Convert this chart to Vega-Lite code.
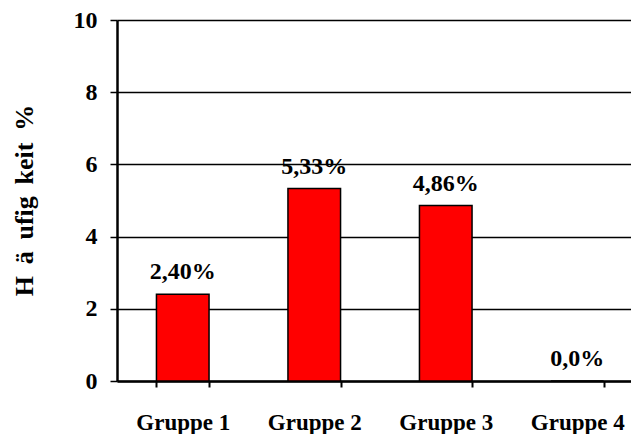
{
  "$schema": "https://vega.github.io/schema/vega-lite/v6.json",
  "autosize": {"type": "none"},
  "padding": {"left": 117, "top": 20, "right": 0, "bottom": 53},
  "width": 514,
  "height": 361,
  "background": "white",
  "config": {
    "view": {"stroke": null},
    "font": "Liberation Serif"
  },
  "data": {
    "values": [
      {"gruppe": "Gruppe 1", "wert": 2.40, "label": "2,40%"},
      {"gruppe": "Gruppe 2", "wert": 5.33, "label": "5,33%"},
      {"gruppe": "Gruppe 3", "wert": 4.86, "label": "4,86%"},
      {"gruppe": "Gruppe 4", "wert": 0.0, "label": "0,0%"}
    ]
  },
  "encoding": {
    "x": {
      "field": "gruppe",
      "type": "nominal",
      "sort": null,
      "scale": {"range": [0, 526], "paddingInner": 0.6, "paddingOuter": 0.3},
      "axis": {
        "title": null,
        "labelAngle": 0,
        "labelFont": "Liberation Serif",
        "labelFontWeight": "bold",
        "labelFontSize": 23,
        "labelColor": "black",
        "labelPadding": 24,
        "tickBand": "extent",
        "tickColor": "black",
        "tickWidth": 2,
        "tickSize": 6,
        "domainColor": "black",
        "domainWidth": 2.5,
        "grid": false
      }
    },
    "y": {
      "field": "wert",
      "type": "quantitative",
      "scale": {"domain": [0, 10], "nice": false},
      "axis": {
        "title": "H\u00a0\u2009ä\u00a0\u2009ufig\u00a0\u2009keit\u00a0\u2009%",
        "values": [0, 2, 4, 6, 8, 10],
        "titleFont": "Liberation Serif",
        "titleFontWeight": "bold",
        "titleFontSize": 26,
        "titleColor": "black",
        "titleAngle": -90,
        "titleX": -93,
        "titleY": 180,
        "titleAlign": "center",
        "titleBaseline": "middle",
        "labelFont": "Liberation Serif",
        "labelFontWeight": "bold",
        "labelFontSize": 24,
        "labelColor": "black",
        "labelPadding": 13,
        "tickColor": "black",
        "tickWidth": 1.5,
        "tickSize": 7,
        "domainColor": "black",
        "domainWidth": 2.5,
        "grid": true,
        "gridColor": "black",
        "gridWidth": 1.5
      }
    }
  },
  "layer": [
    {
      "mark": {"type": "bar", "color": "#FF0000", "stroke": "black", "strokeWidth": 1.5}
    },
    {
      "mark": {
        "type": "text",
        "baseline": "bottom",
        "dy": -10,
        "font": "Liberation Serif",
        "fontWeight": "bold",
        "fontSize": 24,
        "color": "black"
      },
      "encoding": {"text": {"field": "label"}}
    }
  ]
}
